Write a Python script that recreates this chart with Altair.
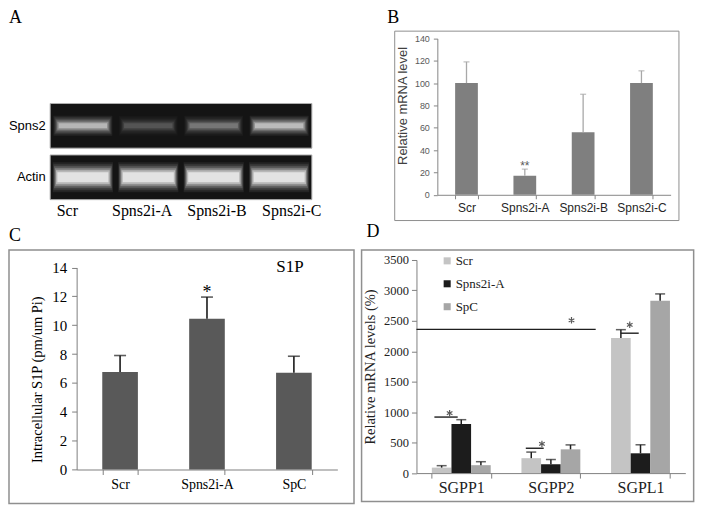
import altair as alt
import pandas as pd

# ------------------------------------------------------------------ data
lanes = ["Scr", "Spns2i-A", "Spns2i-B", "Spns2i-C"]
gel_rows = ["Spns2", "Actin"]
spns2_signal = [0.9, 0.28, 0.45, 0.95]
actin_signal = [1.0, 1.0, 1.0, 1.0]

b_cats = ["Scr", "Spns2i-A", "Spns2i-B", "Spns2i-C"]
b_vals = [100, 17, 56, 100]
b_err = [19, 6, 34, 11]
b_sig = ["", "**", "", ""]

c_cats = ["Scr", "Spns2i-A", "SpC"]
c_vals = [6.75, 10.45, 6.7]
c_err = [1.15, 1.5, 1.15]
c_sig = ["", "*", ""]

d_genes = ["SGPP1", "SGPP2", "SGPL1"]
d_groups = ["Scr", "Spns2i-A", "SpC"]
d_scr = [90, 245, 2220]
d_scr_err = [32, 100, 135]
d_spa = [805, 145, 325]
d_spa_err = [72, 78, 140]
d_spc = [130, 390, 2830]
d_spc_err = [57, 73, 112]
# significance bars: x in units of gene groups (0..3), y in %
d_line_x1 = [0.20, 1.22, 0.0, 2.28]
d_line_x2 = [0.46, 1.42, 2.0, 2.48]
d_line_y = [920, 408, 2360, 2297]
d_star_x = [0.37, 1.40, 1.73, 2.38]
d_star_y = [984, 479, 2508, 2435]

# ------------------------------------------------------------------ layout helpers
KX, KY = 0.983, 0.974


def px(r):
    return 8 + (r - 3) * KX


def py(r):
    return 8 + (r - 3) * KY


SERIF = "Liberation Serif"
SANS = "Liberation Sans"
FRAME = "#8f8f8f"
ASTERISK = "M0,-1L0,1M-0.87,-0.5L0.87,0.5M-0.87,0.5L0.87,-0.5"


def letter(t, dx, offset):
    return alt.TitleParams(t, anchor="start", frame="group", fontSize=18, font=SERIF,
                           fontWeight="normal", color="black", dx=dx, offset=offset)


# ------------------------------------------------------------------ panel A (gel)
A_left, A_top = 8, py(25)
A_w, A_h = 376, py(220) - py(25)
gx0, gx1 = px(45) - A_left, px(312) - A_left
gy0, gy1 = py(100) - A_top, py(199) - A_top
lab_c0, lab_c1 = px(62) - A_left, px(291) - A_left
lab_step = (lab_c1 - lab_c0) / 3

gel_bg = pd.DataFrame({"row": gel_rows, "x0": [0, 0], "x1": [4, 4]})
bands = pd.DataFrame({
    "row": ["Spns2"] * 4 + ["Actin"] * 4,
    "i": list(range(4)) * 2,
    "signal": spns2_signal + actin_signal,
})
lane_df = pd.DataFrame({"lane": lanes})

gel_xs = alt.Scale(domain=[0, 4], range=[gx0, gx1], nice=False, zero=False)
gel_ys = alt.Scale(domain=gel_rows, range=[gy0, gy1], paddingInner=0.132, paddingOuter=0)

bg = alt.Chart(gel_bg).mark_bar(color="#141414", stroke="#b0b0b0", strokeWidth=1).encode(
    x=alt.X("x0:Q", scale=gel_xs, axis=None),
    x2="x1:Q",
    y=alt.Y("row:N", sort=gel_rows, scale=gel_ys,
            axis=alt.Axis(orient="left", offset=-gx0, domain=False, ticks=False, title=None,
                          labelPadding=5, labelFont=SANS, labelFontSize=13, labelColor="black")),
)

band_layers = [bg]
glow = {
    "Spns2": [(20, 0.07, 0.05), (17, 0.09, 0.065), (14, 0.12, 0.08), (11, 0.18, 0.095),
              (8, 0.28, 0.11), (5, 0.40, 0.13)],
    "Actin": [(30, 0.07, 0.04), (26, 0.10, 0.05), (22, 0.16, 0.06), (18, 0.26, 0.075),
              (14, 0.42, 0.09), (10, 0.60, 0.11)],
}
for row in gel_rows:
    for size, a, inset in glow[row]:
        band_layers.append(
            alt.Chart(bands).transform_filter(alt.datum.row == row)
            .transform_calculate(x0=f"datum.i + {inset}", x1=f"datum.i + 1 - {inset}",
                                 op=f"datum.signal * {a}")
            .mark_bar(color="#ffffff", size=size)
            .encode(x=alt.X("x0:Q", scale=gel_xs, axis=None), x2="x1:Q",
                    y=alt.Y("row:N", sort=gel_rows, scale=gel_ys),
                    opacity=alt.Opacity("op:Q", scale=None))
        )

lane_labels = alt.Chart(lane_df).mark_point(opacity=0).encode(
    x=alt.X("lane:N", sort=lanes,
            scale=alt.Scale(range=[lab_c0 - lab_step / 2, lab_c1 + lab_step / 2],
                            paddingInner=0, paddingOuter=0),
            axis=alt.Axis(orient="bottom", offset=-(A_h - gy1), domain=False, ticks=False,
                          title=None, labelAngle=0, labelPadding=3, labelFont=SERIF,
                          labelFontSize=16, labelColor="black")),
)

panel_a = alt.layer(alt.layer(*band_layers), lane_labels).resolve_scale(x="independent").properties(
    width=A_w, height=A_h, title=letter("A", 0, 3.4),
    view=alt.ViewBackground(strokeWidth=0),
)

# ------------------------------------------------------------------ panel B
B_left, B_top = px(395), py(25)
B_w, B_h = px(685) - px(395), py(220) - py(25)
bx0, bx1 = px(439) - B_left, px(677) - B_left
by0, by1 = py(194) - B_top, py(33) - B_top

b_df = pd.DataFrame({"cat": b_cats, "val": b_vals, "err": b_err, "sig": b_sig})
b_df["hi"] = b_df["val"] + b_df["err"]

b_x = alt.X("cat:N", sort=b_cats,
            scale=alt.Scale(range=[bx0, bx1], paddingInner=0.61, paddingOuter=0.305),
            axis=alt.Axis(orient="bottom", offset=-(B_h - by0), title=None, labelAngle=0,
                          tickBand="extent", domainColor="#868686", tickColor="#868686",
                          tickSize=4, labelFont=SANS, labelFontSize=12, labelColor="#262626",
                          labelPadding=4))
b_ys = alt.Scale(domain=[0, 140], range=[by0, by1], nice=False)
b_bars = alt.Chart(b_df).mark_bar(color="#7f7f7f").encode(
    x=b_x,
    y=alt.Y("val:Q", scale=b_ys,
            axis=alt.Axis(orient="left", offset=-bx0, values=list(range(0, 141, 20)),
                          tickCount=8, labelOverlap=False, grid=False, format="d",
                          title="Relative mRNA level", titleFont=SANS, titleFontSize=13,
                          titleFontWeight="normal", titleColor="#404040", titlePadding=5,
                          titleY=py(102) - B_top,
                          domainColor="#868686", tickColor="#868686", tickSize=4,
                          labelFont=SANS, labelFontSize=9, labelColor="#595959", labelPadding=4)),
)
b_rule = alt.Chart(b_df).mark_rule(color="#a8a8a8", strokeWidth=1.3).encode(
    x=alt.X("cat:N", sort=b_cats), y="val:Q", y2="hi:Q")
b_cap = alt.Chart(b_df).mark_tick(color="#a8a8a8", size=6, thickness=1.3).encode(
    x=alt.X("cat:N", sort=b_cats), y="hi:Q")
b_txt = alt.Chart(b_df).mark_text(font=SANS, fontSize=12, baseline="alphabetic", dy=1).encode(
    x=alt.X("cat:N", sort=b_cats), y="hi:Q", text="sig:N", color=alt.value("#595959"))

panel_b = alt.layer(b_bars, b_rule, b_cap, b_txt).properties(
    width=B_w, height=B_h, title=letter("B", -7, 3.4),
    view=alt.ViewBackground(stroke=FRAME, strokeWidth=1),
)

# ------------------------------------------------------------------ panel C
C_left, C_top = px(3), py(246)
C_w, C_h = px(355) - px(3), py(507) - py(246)
cx0, cx1 = px(72) - C_left, px(338) - C_left
cy0, cy1 = py(472) - C_top, py(264) - C_top

c_df = pd.DataFrame({"cat": c_cats, "val": c_vals, "err": c_err, "sig": c_sig})
c_df["hi"] = c_df["val"] + c_df["err"]

c_x = alt.X("cat:N", sort=c_cats,
            scale=alt.Scale(range=[cx0, cx1], paddingInner=0.59, paddingOuter=0.295),
            axis=alt.Axis(orient="bottom", offset=-(C_h - cy0), title=None, labelAngle=0,
                          tickBand="extent", domainColor="#808080", tickColor="#808080",
                          tickSize=5, labelFont=SERIF, labelFontSize=14, labelColor="black",
                          labelPadding=3))
c_ys = alt.Scale(domain=[0, 14], range=[cy0, cy1], nice=False)
c_bars = alt.Chart(c_df).mark_bar(color="#595959").encode(
    x=c_x,
    y=alt.Y("val:Q", scale=c_ys,
            axis=alt.Axis(orient="left", offset=-cx0, values=list(range(0, 15, 2)),
                          tickCount=8, labelOverlap=False, grid=False, format="d",
                          title="Intracellular S1P (pm/um Pi)", titleFont=SERIF, titleFontSize=14.5,
                          titleFontWeight="normal", titleColor="black", titlePadding=7,
                          titleY=py(379) - C_top,
                          domainColor="#808080", tickColor="#808080", tickSize=5,
                          labelFont=SERIF, labelFontSize=15, labelColor="black", labelPadding=5)),
)
c_rule = alt.Chart(c_df).mark_rule(color="#1a1a1a", strokeWidth=1.6).encode(
    x=alt.X("cat:N", sort=c_cats), y="val:Q", y2="hi:Q")
c_cap = alt.Chart(c_df).mark_tick(color="#1a1a1a", size=12, thickness=1.6).encode(
    x=alt.X("cat:N", sort=c_cats), y="hi:Q")
c_txt = alt.Chart(c_df).mark_text(font=SERIF, fontSize=18, baseline="alphabetic", dy=1).encode(
    x=alt.X("cat:N", sort=c_cats), y="hi:Q", text="sig:N", color=alt.value("black"))
c_lbl = alt.Chart(pd.DataFrame({"cat": ["SpC"], "v": [14], "t": ["S1P"]})).mark_text(
    font=SERIF, fontSize=17, baseline="middle", dx=-4).encode(
    x=alt.X("cat:N", sort=c_cats), y="v:Q", text="t:N", color=alt.value("black"))

panel_c = alt.layer(c_bars, c_rule, c_cap, c_txt, c_lbl).properties(
    width=C_w, height=C_h, title=letter("C", 0, 5.0),
    view=alt.ViewBackground(stroke=FRAME, strokeWidth=1.5),
)

# ------------------------------------------------------------------ panel D
D_left, D_top = px(360.7), py(248)
D_w, D_h = px(699.5) - px(360.7), py(507) - py(248)
dx0, dx1 = px(416.7) - D_left, px(691) - D_left
dy0, dy1 = py(477.7) - D_top, py(258.2) - D_top

d_df = pd.DataFrame({
    "gene": d_genes * 3,
    "grp": [g for g in d_groups for _ in d_genes],
    "val": d_scr + d_spa + d_spc,
    "err": d_scr_err + d_spa_err + d_spc_err,
})
d_df["hi"] = d_df["val"] + d_df["err"]
sig_df = pd.DataFrame({"x1": d_line_x1, "x2": d_line_x2, "y": d_line_y})
star_df = pd.DataFrame({"x": d_star_x, "y": d_star_y})

d_xs = alt.Scale(range=[dx0, dx1], paddingInner=0.343, paddingOuter=0.1715)
d_x = alt.X("gene:N", sort=d_genes, scale=d_xs,
            axis=alt.Axis(orient="bottom", offset=-(D_h - dy0), title=None, labelAngle=0,
                          tickBand="extent", domainColor="#808080", tickColor="#808080",
                          tickSize=5, labelFont=SERIF, labelFontSize=16, labelColor="#222222",
                          labelPadding=1))
d_xo = alt.XOffset("grp:N", sort=d_groups, scale=alt.Scale(paddingInner=0, paddingOuter=0))
d_ys = alt.Scale(domain=[0, 3500], range=[dy0, dy1], nice=False)

# legend sits in the coordinate frame of the first panel's plot area
leg_x = px(447) - 3.5 - A_left
leg_y = py(261) - 5.5 - A_top

d_bars = alt.Chart(d_df).mark_bar().encode(
    x=d_x, xOffset=d_xo,
    y=alt.Y("val:Q", scale=d_ys,
            axis=alt.Axis(orient="left", offset=-dx0, values=list(range(0, 3501, 500)),
                          tickCount=8, labelOverlap=False, grid=False, format="d",
                          title="Relative mRNA levels (%)", titleFont=SERIF, titleFontSize=14.5,
                          titleFontWeight="normal", titleColor="#222222", titlePadding=6,
                          domainColor="#808080", tickColor="#808080", tickSize=5,
                          labelFont=SERIF, labelFontSize=12.5, labelColor="#222222", labelPadding=3)),
    color=alt.Color("grp:N", sort=d_groups,
                    scale=alt.Scale(domain=d_groups, range=["#c4c4c4", "#1c1c1c", "#a6a6a6"]),
                    legend=alt.Legend(orient="none", legendX=leg_x, legendY=leg_y, title=None,
                                      symbolType="square", symbolSize=50, symbolStrokeWidth=0,
                                      labelFont=SERIF, labelFontSize=13, labelColor="#222222",
                                      rowPadding=9, labelOffset=2, padding=0)),
)
d_rule = alt.Chart(d_df).mark_rule(color="#1e1e1e", strokeWidth=1.5).encode(
    x=alt.X("gene:N", sort=d_genes, scale=d_xs), xOffset=d_xo, y="val:Q", y2="hi:Q")
d_cap = alt.Chart(d_df).mark_tick(color="#1e1e1e", size=10, thickness=1.5).encode(
    x=alt.X("gene:N", sort=d_genes, scale=d_xs), xOffset=d_xo, y="hi:Q")

ann_xs = alt.Scale(domain=[0, 3], range=[dx0, dx1], nice=False, zero=False)
d_lines = alt.Chart(sig_df).mark_rule(color="#1e1e1e", strokeWidth=1.4).encode(
    x=alt.X("x1:Q", scale=ann_xs, axis=None), x2="x2:Q", y="y:Q")
d_stars = alt.Chart(star_df).mark_point(shape=ASTERISK, size=42, filled=False, strokeWidth=1.2,
                                        opacity=1).encode(
    x=alt.X("x:Q", scale=ann_xs, axis=None), y="y:Q", color=alt.value("#5a5a5a"))

panel_d = alt.layer(alt.layer(d_bars, d_rule, d_cap), alt.layer(d_lines, d_stars)).resolve_scale(
    x="independent").properties(
    width=D_w, height=D_h, title=letter("D", 5, 9.0),
    view=alt.ViewBackground(stroke=FRAME, strokeWidth=1.5),
)

# ------------------------------------------------------------------ assemble
row1 = alt.hconcat(panel_a, panel_b, spacing=(B_left - 7) - (A_left + A_w))
row2 = alt.hconcat(panel_c, panel_d, spacing=D_left - (C_left + C_w))
chart = alt.vconcat(row1, row2, spacing=1).properties(padding=0, background="white").configure_view(
    strokeWidth=0).configure_axis(labelFont=SERIF, titleFont=SERIF)

chart.save("out.html", embed_options={"renderer": "svg", "actions": False})
